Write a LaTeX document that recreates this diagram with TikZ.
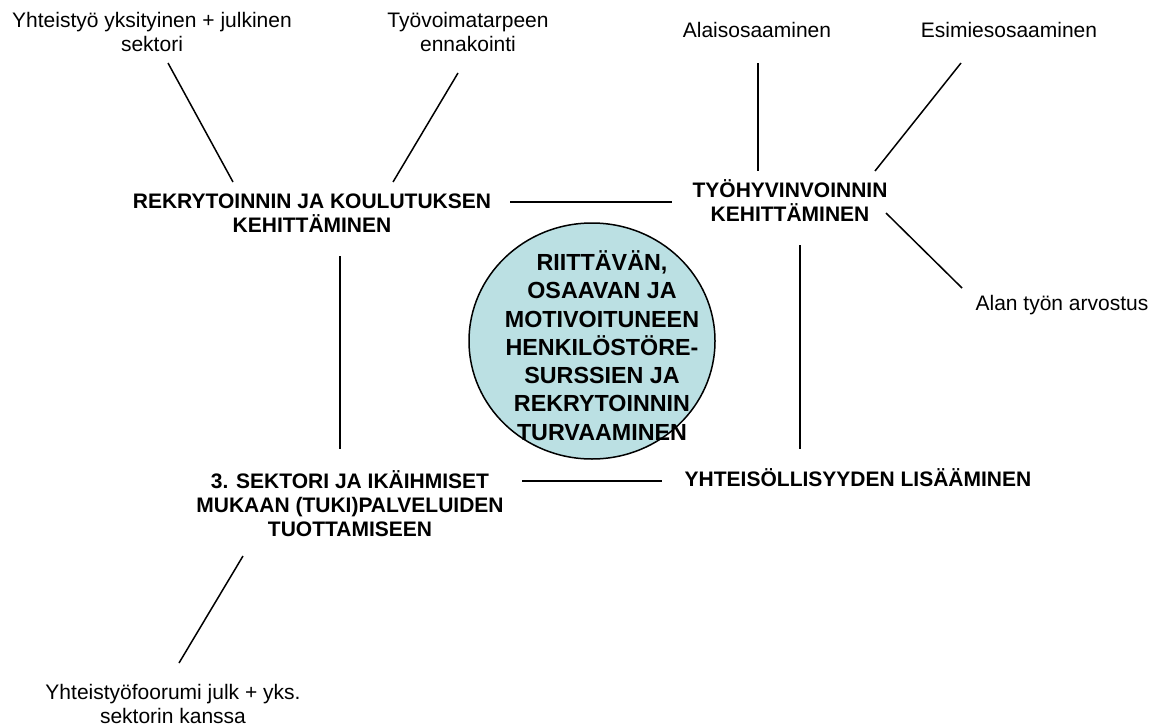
\documentclass[tikz,border=0pt]{standalone}
\usepackage{fontspec}
\setmainfont{Liberation Sans}
\definecolor{hubCyan}{RGB}{187,224,227}
\usetikzlibrary{shapes.geometric}

\begin{document}
\begin{tikzpicture}[x=1pt, y=-1pt,
  lbl/.style={align=center, inner sep=0pt, font=\fontsize{21}{24}\selectfont},
  theme/.style={align=center, inner sep=0pt, font=\fontsize{21}{24}\selectfont\bfseries},
  hub/.style={ellipse, draw, line width=1.5pt, fill=hubCyan, inner sep=0pt,
              minimum width=246pt, minimum height=236pt},
  link/.style={line width=1.5pt}
]
  \useasboundingbox (0,0) rectangle (1160,728);

  % centre
  \node[hub] (hub) at (592,341) {};
  \node[theme, font=\fontsize{23.3}{28.3}\selectfont\bfseries] (goal) at (602,345.5)
    {RIITTÄVÄN,\\OSAAVAN JA\\MOTIVOITUNEEN\\HENKILÖSTÖRE-\\SURSSIEN JA\\REKRYTOINNIN\\TURVAAMINEN};

  % themes
  \node[theme] (rek)  at (312,213.5) {REKRYTOINNIN JA KOULUTUKSEN\\KEHITTÄMINEN};
  \node[theme] (tyo)  at (790,201)   {TYÖHYVINVOINNIN\\KEHITTÄMINEN};
  \node[theme] (sekt) at (350,503.5) {3. SEKTORI JA IKÄIHMISET\\MUKAAN (TUKI)PALVELUIDEN\\TUOTTAMISEEN};
  \node[theme] (yht)  at (858,478)   {YHTEISÖLLISYYDEN LISÄÄMINEN};

  % sub-items
  \node[lbl] (yks)   at (152,31.5) {Yhteistyö yksityinen + julkinen\\sektori};
  \node[lbl] (ennak) at (468,31.5) {Työvoimatarpeen\\ennakointi};
  \node[lbl] (alais) at (757,30)   {Alaisosaaminen};
  \node[lbl] (esim)  at (1009,30)  {Esimiesosaaminen};
  \node[lbl] (arvo)  at (1062,305) {Alan työn arvostus};
  \node[lbl] (foor)  at (173,704)  {Yhteistyöfoorumi julk + yks.\\sektorin kanssa};

  % line ends
  \coordinate (yks-e)   at (168,63);   \coordinate (rek-yks)   at (233,182);
  \coordinate (ennak-e) at (458,73);   \coordinate (rek-ennak) at (393,182);
  \coordinate (alais-e) at (758,63);   \coordinate (tyo-alais) at (758,171);
  \coordinate (esim-e)  at (961,63);   \coordinate (tyo-esim)  at (875,171);
  \coordinate (arvo-e)  at (962,288);  \coordinate (tyo-arvo)  at (886,213);
  \coordinate (rek-e)   at (510,202);  \coordinate (tyo-w)     at (672,202);
  \coordinate (rek-s)   at (340,256);  \coordinate (sekt-n)    at (340,449);
  \coordinate (tyo-s)   at (800,245);  \coordinate (yht-n)     at (800,449);
  \coordinate (sekt-e)  at (522,481);  \coordinate (yht-w)     at (662,481);
  \coordinate (sekt-s)  at (243,556);  \coordinate (foor-n)    at (179,663);

  \draw[link] (yks-e)   -- (rek-yks);
  \draw[link] (ennak-e) -- (rek-ennak);
  \draw[link] (alais-e) -- (tyo-alais);
  \draw[link] (esim-e)  -- (tyo-esim);
  \draw[link] (tyo-arvo) -- (arvo-e);
  \draw[link] (rek-e)   -- (tyo-w);
  \draw[link] (rek-s)   -- (sekt-n);
  \draw[link] (tyo-s)   -- (yht-n);
  \draw[link] (sekt-e)  -- (yht-w);
  \draw[link] (sekt-s)  -- (foor-n);
\end{tikzpicture}
\end{document}
